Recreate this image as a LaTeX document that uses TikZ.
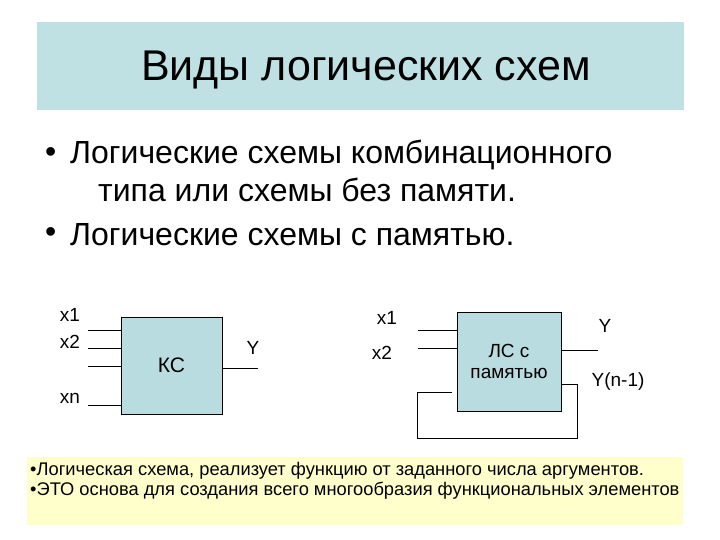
\documentclass[tikz,border=0pt]{standalone}
\usepackage{fontspec}
\setmainfont{Liberation Sans}
\definecolor{band}{HTML}{BFE1E3}
\definecolor{boxc}{HTML}{B8DCDF}
\definecolor{note}{HTML}{FFFFCC}
\begin{document}
\begin{tikzpicture}[x=1pt,y=-1pt,
  blk/.style={draw=black,fill=boxc,line width=0.8pt},
  wire/.style={line width=0.8pt},
  lbl/.style={font=\fontsize{19}{22}\selectfont,inner sep=0pt}]
\useasboundingbox (0,0) rectangle (720,540);
\fill[white] (0,0) rectangle (720,540);
\fill[band] (37,22) rectangle (684,110);
\node (title) at (366,70) {\fontsize{43}{50}\selectfont Виды логических схем};
\node[anchor=west,inner sep=0pt] (b1) at (45,155) {\fontsize{32}{38}\selectfont •};
\node[anchor=west,inner sep=0pt] (t1) at (70,155) {\fontsize{32}{38}\selectfont Логические схемы комбинационного};
\node[anchor=west,inner sep=0pt] (t2) at (98,190) {\fontsize{32}{38}\selectfont типа или схемы без памяти.};
\node[anchor=west,inner sep=0pt] (b2) at (45,235) {\fontsize{32}{38}\selectfont •};
\node[anchor=west,inner sep=0pt] (t3) at (70,235) {\fontsize{32}{38}\selectfont Логические схемы с памятью.};
% KC
\node[blk,minimum width=101pt,minimum height=97pt,font=\fontsize{21}{24}\selectfont] (kc) at (171.5,365.5) {КС};
\coordinate (i1) at (88,330); \coordinate (i2) at (88,348);
\coordinate (i3) at (88,366); \coordinate (i4) at (88,405);
\coordinate (o1) at (258,368);
\draw[wire] (i1) -- (i1 -| kc.west);
\draw[wire] (i2) -- (i2 -| kc.west);
\draw[wire] (i3) -- (i3 -| kc.west);
\draw[wire] (i4) -- (i4 -| kc.west);
\draw[wire] (o1 -| kc.east) -- (o1);
\node[lbl] (lx1) at (70,315) {x1};
\node[lbl] (lx2) at (70,342) {x2};
\node[lbl] (lxn) at (70,398) {xn};
\node[lbl] (ly) at (253,348) {Y};
% LS
\node[blk,minimum width=104pt,minimum height=99pt,align=center,font=\fontsize{19}{21}\selectfont] (ls) at (509,361.5) {ЛС с\\памятью};
\coordinate (j1) at (418,330); \coordinate (j2) at (418,348);
\coordinate (p1) at (598,350);
\coordinate (f0) at (561,384); \coordinate (f1) at (577,384);
\coordinate (f2) at (577,438); \coordinate (f3) at (417,438);
\coordinate (f4) at (417,392); \coordinate (f5) at (452,392);
\draw[wire] (j1) -- (j1 -| ls.west);
\draw[wire] (j2) -- (j2 -| ls.west);
\draw[wire] (p1 -| ls.east) -- (p1);
\draw[wire] (f0) -- (f1) -- (f2) -- (f3) -- (f4) -- (f5);
\node[lbl] (rx1) at (387,318) {x1};
\node[lbl] (rx2) at (382,353) {x2};
\node[lbl] (ry) at (605,326) {Y};
\node[lbl] (ryn) at (618,382) {Y(n-1)};
% note
\fill[note] (27,457) rectangle (683,525);
\node[anchor=west,inner sep=0pt] (n1) at (30,471) {\fontsize{18.3}{21}\selectfont •Логическая схема, реализует функцию от заданного числа аргументов.};
\node[anchor=west,inner sep=0pt] (n2) at (30,491) {\fontsize{18.3}{21}\selectfont •ЭТО основа для создания всего многообразия функциональных элементов};
\end{tikzpicture}
\end{document}
